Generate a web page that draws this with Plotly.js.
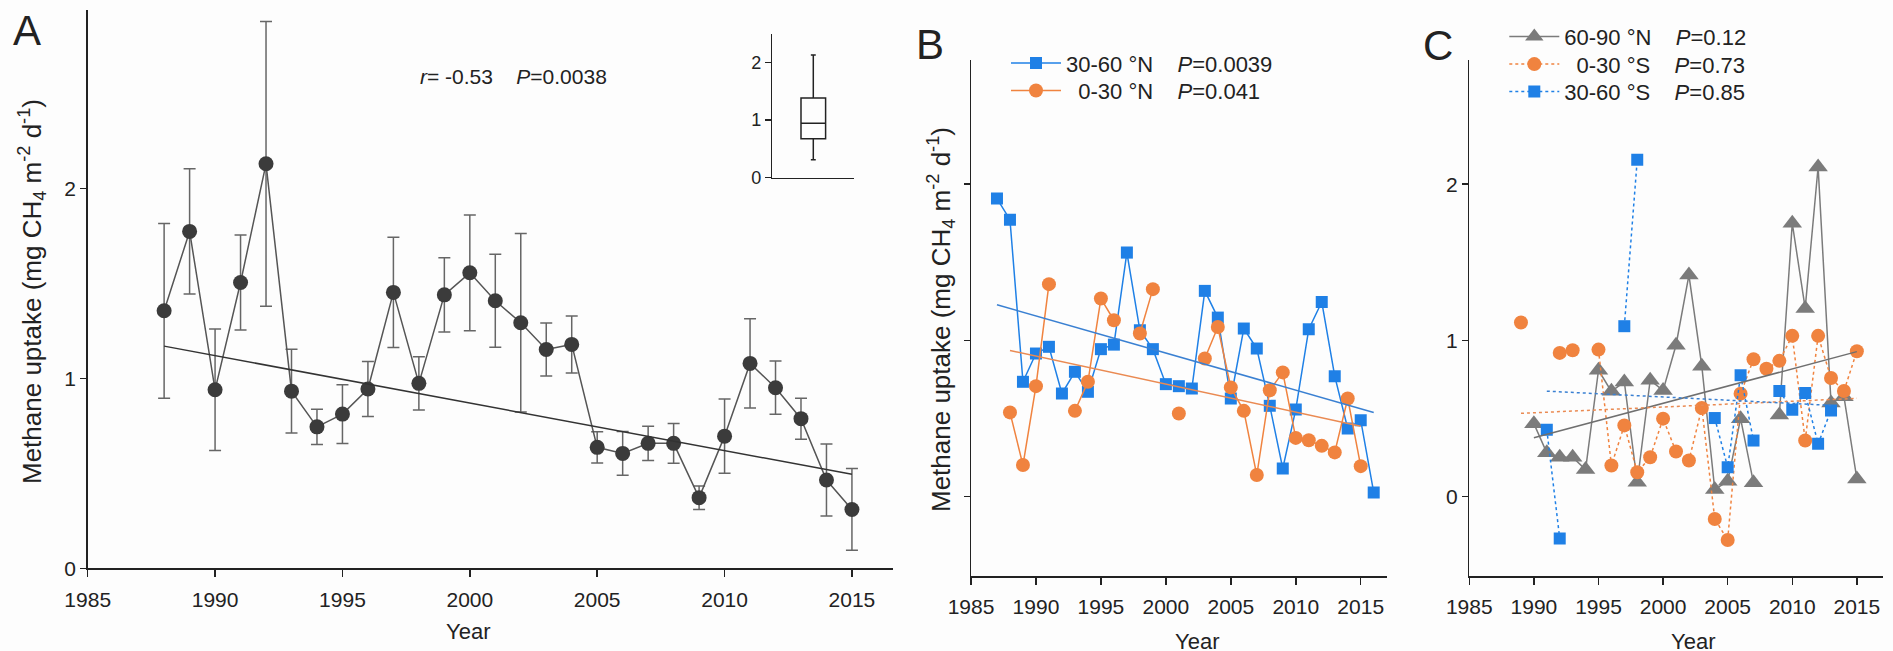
<!DOCTYPE html>
<html><head><meta charset="utf-8">
<script src="https://cdn.plot.ly/plotly-3.0.1.min.js"></script>
<style>html,body{margin:0;padding:0;background:#fdfdfd;}#chart{width:1893px;height:651px;}</style>
</head><body><div id="chart"></div>
<script>
// ---------- Panel A: global annual mean methane uptake ----------
const yearsA = [1988,1989,1990,1991,1992,1993,1994,1995,1996,1997,1998,1999,2000,2001,2002,2003,2004,2005,2006,2007,2008,2009,2010,2011,2012,2013,2014,2015];
const uptakeA = [1.356,1.774,0.94,1.505,2.13,0.933,0.745,0.812,0.944,1.453,0.974,1.44,1.556,1.409,1.293,1.152,1.179,0.637,0.605,0.658,0.658,0.372,0.696,1.079,0.951,0.788,0.465,0.31];
const sdA = [0.46,0.33,0.32,0.25,0.75,0.22,0.093,0.155,0.145,0.29,0.14,0.195,0.305,0.245,0.47,0.14,0.15,0.082,0.115,0.09,0.105,0.062,0.195,0.235,0.14,0.108,0.19,0.215];
const trendYearsA = [1988, 2015];
const trendA = [1.17, 0.495];
const statsA = "<i>r</i>= -0.53\u00a0\u00a0\u00a0\u00a0<i>P</i>=0.0038";

// ---------- Panel B: northern latitudes ----------
const yearsB = [1987,1988,1989,1990,1991,1992,1993,1994,1995,1996,1997,1998,1999,2000,2001,2002,2003,2004,2005,2006,2007,2008,2009,2010,2011,2012,2013,2014,2015,2016];
const n30_60 = [1.908,1.773,0.735,0.916,0.959,0.66,0.799,0.671,0.944,0.973,1.562,1.065,0.944,0.72,0.707,0.692,1.317,1.146,0.628,1.076,0.948,0.581,0.18,0.558,1.072,1.246,0.771,0.436,0.489,0.027];
const n0_30 = [null,0.539,0.202,0.707,1.36,null,0.549,0.735,1.268,1.129,null,1.044,1.328,null,0.532,null,0.884,1.086,0.699,0.549,0.138,0.681,0.795,0.376,0.361,0.325,0.283,0.628,0.195,null];
const trendYearsN30_60 = [1987, 2016];
const trendN30_60 = [1.228, 0.539];
const trendYearsN0_30 = [1988, 2015];
const trendN0_30 = [0.935, 0.451];
const namesB = ["30-60 \u00b0N\u00a0\u00a0\u00a0\u00a0<i>P</i>=0.0039", "\u20070-30 \u00b0N\u00a0\u00a0\u00a0\u00a0<i>P</i>=0.041"];

// ---------- Panel C: polar / southern latitudes ----------
const yearsC = [1989,1990,1991,1992,1993,1994,1995,1996,1997,1998,1999,2000,2001,2002,2003,2004,2005,2006,2007,2008,2009,2010,2011,2012,2013,2014,2015];
const n60_90 = [null,0.467,0.28,0.252,0.252,0.173,0.809,0.674,0.734,0.092,0.745,0.68,0.969,1.418,0.834,0.045,0.098,0.499,0.088,null,0.522,1.75,1.205,2.11,0.6,0.64,0.113];
const s0_30 = [1.115,null,null,0.92,0.937,null,0.941,0.199,0.456,0.156,0.252,0.499,0.289,0.231,0.567,-0.143,-0.278,0.659,0.879,0.819,0.869,1.029,0.359,1.029,0.759,0.676,0.931];
const s30_60 = [null,null,0.428,-0.268,null,null,null,null,1.091,2.157,null,null,null,null,null,0.503,0.188,0.777,0.359,null,0.676,0.556,0.663,0.338,0.552,null,null];
const trendYearsN60_90 = [1990, 2015];
const trendN60_90 = [0.377, 0.928];
const trendYearsS0_30 = [1989, 2015];
const trendS0_30 = [0.533, 0.629];
const trendYearsS30_60 = [1991, 2013];
const trendS30_60 = [0.675, 0.584];
const namesC = ["60-90 \u00b0N\u00a0\u00a0\u00a0\u00a0<i>P</i>=0.12", "\u20070-30 \u00b0S\u00a0\u00a0\u00a0\u00a0<i>P</i>=0.73", "30-60 \u00b0S\u00a0\u00a0\u00a0\u00a0<i>P</i>=0.85"];

const yTitle = "Methane uptake (mg CH<sub>4</sub> m<sup>-2</sup> d<sup>-1</sup>)";

// ---------- styling ----------
const W = 1893, H = 651;
const px = v => v / W, py = v => 1 - v / H;
const BLUE = '#1f80e6', ORANGE = '#f0833f', GRAY = '#7b7b7b', INK = '#222';
const FONT = 'Liberation Sans, Arial, sans-serif';

const traces = [
  {x: yearsA, y: uptakeA, type: 'scatter', mode: 'lines+markers', xaxis: 'x', yaxis: 'y',
   line: {color: '#555', width: 1.5}, marker: {size: 15, color: '#3b3b3b'},
   error_y: {type: 'data', array: sdA, visible: true, color: '#666', thickness: 1.5, width: 6}, showlegend: false},
  {x: trendYearsA, y: trendA, type: 'scatter', mode: 'lines', xaxis: 'x', yaxis: 'y',
   line: {color: '#333', width: 1.5}, showlegend: false},
  {y: uptakeA, x0: 0, type: 'box', xaxis: 'x4', yaxis: 'y4', boxpoints: false,
   line: {color: INK, width: 1.5}, fillcolor: 'rgba(0,0,0,0)', width: 0.3, whiskerwidth: 0.2, showlegend: false},

  {x: yearsB, y: n30_60, type: 'scatter', mode: 'lines+markers', xaxis: 'x2', yaxis: 'y2', name: namesB[0],
   line: {color: BLUE, width: 1.5}, marker: {symbol: 'square', size: 12, color: BLUE}, legend: 'legend'},
  {x: yearsB, y: n0_30, type: 'scatter', mode: 'lines+markers', xaxis: 'x2', yaxis: 'y2', name: namesB[1],
   line: {color: ORANGE, width: 1.5}, marker: {symbol: 'circle', size: 14, color: ORANGE}, legend: 'legend2'},
  {x: trendYearsN30_60, y: trendN30_60, type: 'scatter', mode: 'lines', xaxis: 'x2', yaxis: 'y2',
   line: {color: '#3a80d2', width: 1.5}, showlegend: false},
  {x: trendYearsN0_30, y: trendN0_30, type: 'scatter', mode: 'lines', xaxis: 'x2', yaxis: 'y2',
   line: {color: '#ea8a52', width: 1.5}, showlegend: false},

  {x: yearsC, y: n60_90, type: 'scatter', mode: 'lines+markers', xaxis: 'x3', yaxis: 'y3', name: namesC[0],
   line: {color: GRAY, width: 1.5}, marker: {symbol: 'triangle-up', size: 17, color: GRAY}, legend: 'legend3'},
  {x: yearsC, y: s0_30, type: 'scatter', mode: 'lines+markers', xaxis: 'x3', yaxis: 'y3', name: namesC[1],
   line: {color: ORANGE, width: 1.5, dash: 'dot'}, marker: {symbol: 'circle', size: 14, color: ORANGE}, legend: 'legend4'},
  {x: yearsC, y: s30_60, type: 'scatter', mode: 'lines+markers', xaxis: 'x3', yaxis: 'y3', name: namesC[2],
   line: {color: BLUE, width: 1.5, dash: 'dot'}, marker: {symbol: 'square', size: 12, color: BLUE}, legend: 'legend5'},
  {x: trendYearsN60_90, y: trendN60_90, type: 'scatter', mode: 'lines', xaxis: 'x3', yaxis: 'y3',
   line: {color: '#6f6f6f', width: 1.5}, showlegend: false},
  {x: trendYearsS0_30, y: trendS0_30, type: 'scatter', mode: 'lines', xaxis: 'x3', yaxis: 'y3',
   line: {color: '#ea8a52', width: 1.5, dash: 'dot'}, showlegend: false},
  {x: trendYearsS30_60, y: trendS30_60, type: 'scatter', mode: 'lines', xaxis: 'x3', yaxis: 'y3',
   line: {color: '#3a80d2', width: 1.5, dash: 'dot'}, showlegend: false}
];

function xAx(domain, range, anchor) {
  return {domain, range, anchor, showline: true, linecolor: INK, linewidth: 2, ticks: 'outside', ticklen: 7,
    tickwidth: 1.5, tickcolor: INK, tick0: 1985, dtick: 5, showgrid: false, zeroline: false,
    tickfont: {size: 21, color: INK}, ticklabelstandoff: 4};
}
function yAx(domain, range, anchor, labels) {
  return {domain, range, anchor, showline: true, linecolor: INK, linewidth: 1.5, ticks: 'outside', ticklen: 6,
    tickwidth: 1.5, tickcolor: INK, tick0: 0, dtick: 1, showgrid: false, zeroline: false,
    showticklabels: labels, tickfont: {size: 21, color: INK}};
}
function leg(x, y) {
  return {x: px(x), y: py(y), xanchor: 'left', yanchor: 'middle', bgcolor: 'rgba(0,0,0,0)', borderwidth: 0,
    itemwidth: 50, font: {size: 22, color: INK}, itemclick: false, itemdoubleclick: false};
}
function ann(text, x, y, size, extra) {
  return Object.assign({text, x: px(x), y: py(y), xref: 'paper', yref: 'paper', showarrow: false,
    xanchor: 'center', yanchor: 'middle', font: {size, color: INK}}, extra || {});
}

const layout = {
  width: W, height: H, margin: {l: 0, r: 0, t: 0, b: 0},
  paper_bgcolor: '#fdfdfd', plot_bgcolor: 'rgba(0,0,0,0)',
  font: {family: FONT, color: INK},
  xaxis: xAx([px(87.7), px(892.7)], [1985, 2016.6], 'y'),
  yaxis: yAx([py(568.3), py(10)], [0, 2.94], 'x', true),
  xaxis2: xAx([px(971), px(1386.7)], [1985, 2017], 'y2'),
  yaxis2: yAx([py(575.5), py(60)], [-0.505, 2.795], 'x2', false),
  xaxis3: xAx([px(1469.3), px(1882.7)], [1985, 2017], 'y3'),
  yaxis3: yAx([py(575.5), py(60)], [-0.505, 2.795], 'x3', true),
  xaxis4: {domain: [px(772.3), px(854.3)], range: [-0.5, 0.5], anchor: 'y4', showline: true, linecolor: INK,
    linewidth: 1.5, ticks: '', showticklabels: false, showgrid: false, zeroline: false},
  yaxis4: {domain: [py(177.7), py(34.3)], range: [0, 2.49], anchor: 'x4', showline: true, linecolor: INK,
    linewidth: 1.5, ticks: 'outside', ticklen: 6, tickwidth: 1.5, tickcolor: INK, tick0: 0, dtick: 1,
    showgrid: false, zeroline: false, tickfont: {size: 18, color: INK}},
  legend: leg(1006, 63.3), legend2: leg(1006, 90.7),
  legend3: leg(1504.3, 36.7), legend4: leg(1504.3, 64.3), legend5: leg(1504.3, 91.7),
  annotations: [
    ann('A', 26.5, 30, 42), ann('B', 929.7, 44, 42), ann('C', 1438.3, 45, 42),
    ann(statsA, 418, 76.7, 21, {xanchor: 'left'}),
    ann(yTitle, 32, 292, 26, {textangle: -90}),
    ann(yTitle, 941, 320, 26, {textangle: -90}),
    ann('Year', 468, 631.7, 22), ann('Year', 1196.7, 641.7, 22), ann('Year', 1693.3, 641.7, 22)
  ]
};

Plotly.newPlot('chart', traces, layout, {staticPlot: true, displayModeBar: false});
</script></body></html>
